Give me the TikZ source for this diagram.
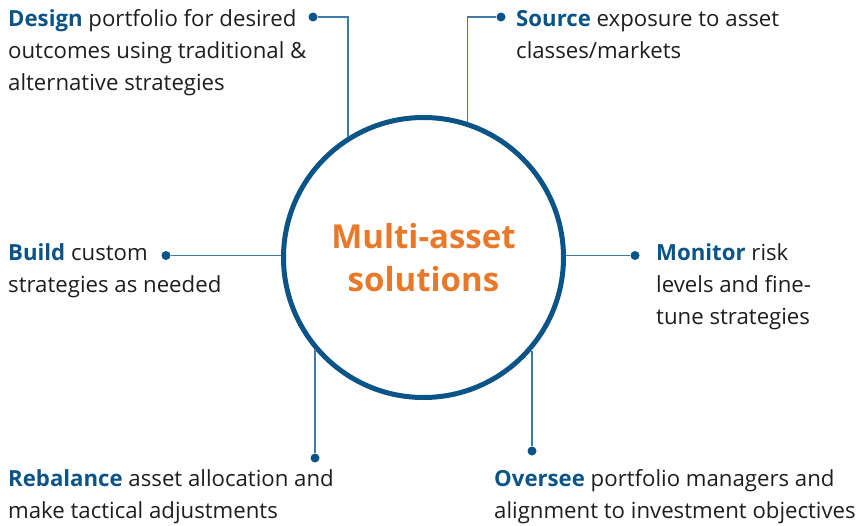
\documentclass[tikz,border=0pt]{standalone}
\usepackage{fontspec}
\setmainfont{Open Sans}
\definecolor{navy}{HTML}{0B5488}
\definecolor{wire}{HTML}{3D7BAA}
\definecolor{tangerine}{HTML}{E8792A}
\definecolor{ink}{HTML}{1E1E1E}
\tikzset{
  blurb/.style={anchor=base west, inner sep=0pt, align=left, text=ink,
    font=\fontsize{22.2}{31.7}\selectfont},
  pin/.style={circle, fill=navy, inner sep=0pt, minimum size=9pt},
  wireline/.style={draw=wire, line width=1.4pt}
}
\newcommand{\keyword}[1]{\textbf{\color{navy}#1}}
\begin{document}
\begin{tikzpicture}[x=1pt,y=-1pt]
		\useasboundingbox (0,0) rectangle (857,525);
		% centre circle
		\node[circle, draw=navy, line width=5pt, minimum size=280pt, inner sep=0pt,
		  text=tangerine, align=center, font=\bfseries\fontsize{33}{43}\selectfont]
		  (hub) at (423.5,257.5) {Multi-asset\\solutions};
		% dots
		\node[pin] (designpin) at (313,17) {};
		\node[pin] (sourcepin) at (501,17) {};
		\node[pin] (buildpin) at (166,255.5) {};
		\node[pin] (monitorpin) at (635,255.5) {};
		\node[pin] (rebalancepin) at (315,458) {};
		\node[pin] (overseepin) at (532,451) {};
		% connectors
		\draw[wireline] (designpin) -| (hub.122);
		\draw[wireline] (sourcepin) -| (hub.72.2);
		\draw[wireline] (buildpin) -- (buildpin -| hub.west);
		\draw[wireline] (monitorpin) -- (monitorpin -| hub.east);
		\draw[wireline] (rebalancepin) -- (rebalancepin |- hub.220.4);
		\draw[wireline] (overseepin) -- (overseepin |- hub.319.6);
		% texts (anchored on the last line)
		\node[blurb] (design) at (8,90) {\keyword{Design} portfolio for desired\\outcomes using traditional \&\\alternative strategies};
		\node[blurb] (source) at (516,58) {\keyword{Source} exposure to asset\\classes/markets};
		\node[blurb] (build) at (8,292) {\keyword{Build} custom\\strategies as needed};
		\node[blurb] (monitor) at (656,324) {\keyword{Monitor} risk\\levels and fine-\\tune strategies};
		\node[blurb] (rebalance) at (8,518) {\keyword{Rebalance} asset allocation and\\make tactical adjustments};
		\node[blurb] (oversee) at (494,518) {\keyword{Oversee} portfolio managers and\\alignment to investment objectives};
\end{tikzpicture}
\end{document}
